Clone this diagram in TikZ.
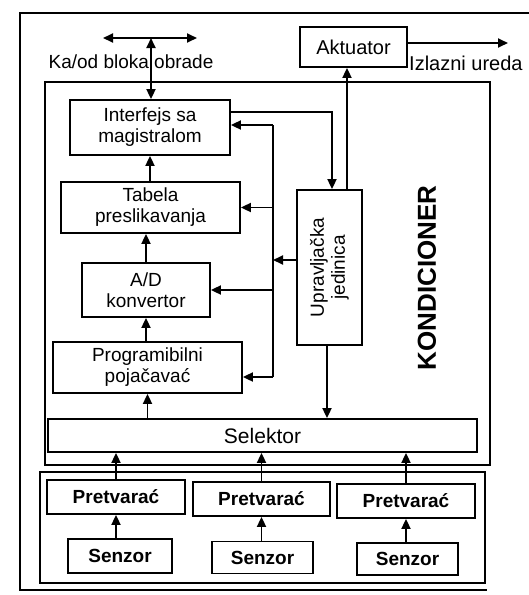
\documentclass[tikz,border=0pt]{standalone}
\usepackage{fontspec}
\setmainfont{Liberation Sans}
\usetikzlibrary{arrows.meta}
\tikzset{
  ln/.style={line width=1.8pt},
  box/.style={draw, line width=1.8pt, inner sep=0pt, align=center, font=\fontsize{19}{21}\selectfont},
  bbox/.style={box, font=\fontsize{19}{21}\selectfont\bfseries},
  txt/.style={inner sep=0pt, align=center, font=\fontsize{19}{21}\selectfont},
  arr/.style={line width=1.8pt, -{Triangle[length=10pt,width=9pt]}},
  darr/.style={line width=1.8pt, {Triangle[length=10pt,width=9pt]}-{Triangle[length=10pt,width=9pt]}},
}
\begin{document}
\begin{tikzpicture}[x=1pt,y=-1pt]
\useasboundingbox (0,0) rectangle (529,595);
% frames
\draw[ln] (529,13) -- (20,13) -- (20,590) -- (487,590);
\draw[ln] (45,82) rectangle (490,465);
\draw[ln] (40,472) rectangle (485,583);
% blocks
\node[box, minimum width=107pt, minimum height=40pt, font=\fontsize{20}{22}\selectfont] (akt) at (353.5,47) {Aktuator};
\node[box, minimum width=160pt, minimum height=55pt] (iface) at (150,127.5) {Interfejs sa\\magistralom};
\node[box, minimum width=179pt, minimum height=51pt] (tab) at (150.5,207.5) {Tabela\\preslikavanja};
\node[box, minimum width=128pt, minimum height=54pt] (ad) at (146,290) {A/D\\konvertor};
\node[box, minimum width=189pt, minimum height=51pt] (prog) at (147.5,367.5) {Programibilni\\poja\v{c}ava\'c};
\node[box, minimum width=65pt, minimum height=155pt] (upr) at (329.5,267.5) {};
\node[txt, rotate=90] (uprtxt) at (upr.center) {Upravlja\v{c}ka\\jedinica};
\node[box, minimum width=429pt, minimum height=33pt, font=\fontsize{21}{23}\selectfont] (sel) at (262.5,435.5) {Selektor};
\node[inner sep=0pt, rotate=90, font=\fontsize{26}{28}\selectfont\bfseries] (kond) at (427,278) {KONDICIONER};
% converters and sensors
\node[bbox, minimum width=138pt, minimum height=34pt] (p1) at (116,497) {Pretvara\'c};
\node[bbox, minimum width=137pt, minimum height=34pt] (p2) at (261.5,499) {Pretvara\'c};
\node[bbox, minimum width=138pt, minimum height=34pt] (p3) at (406,501) {Pretvara\'c};
\node[bbox, minimum width=104pt, minimum height=34pt] (s1) at (120,556) {Senzor};
\node[bbox, minimum width=101pt, minimum height=32pt] (s2) at (262.5,557.5) {Senzor};
\node[bbox, minimum width=101pt, minimum height=32pt] (s3) at (407.5,559) {Senzor};
% labels
\node[txt] (lbl) at (131,62) {Ka/od bloka obrade};
\node[txt, anchor=west, font=\fontsize{20}{22}\selectfont] (izl) at (409,63) {Izlazni ureda};
% bus to processing block
\coordinate (busL) at (103,38);
\coordinate (busR) at (197,38);
\coordinate (busC) at (151,38);
\draw[darr] (busL) -- (busR);
\draw[darr] (busC) -- (busC |- iface.north);
% actuator output
\coordinate (out) at (508,43);
\draw[arr] (akt.east |- out) -- (out);
% vertical chain
\draw[arr] (sel.north -| prog.south) -- (prog.south);
\draw[arr] (ad.south |- prog.north) -- (ad.south);
\draw[arr] (ad.north) -- (ad.north |- tab.south);
\draw[arr] (iface.south |- tab.north) -- (iface.south);
% control unit links
\coordinate (c1) at (332,112);
\draw[arr] (c1 -| iface.east) -- (c1) -- (c1 |- upr.north);
\coordinate (c2) at (347,100);
\draw[arr] (c2 |- upr.north) -- (c2 |- akt.south);
\coordinate (c3) at (327,400);
\draw[arr] (c3 |- upr.south) -- (c3 |- sel.north);
% control bus
\coordinate (bt) at (273,125);
\coordinate (bb) at (273,377);
\draw[ln] (bt) -- (bb);
\draw[arr] (bt) -- (bt -| iface.east);
\draw[arr] (bt |- tab.east) -- (tab.east);
\draw[arr] (bt |- ad.east) -- (ad.east);
\draw[arr] (bb) -- (bb -| prog.east);
\draw[arr] ([yshift=7.5pt]upr.west) -- ([yshift=7.5pt]upr.west -| bt);
% sensors -> converters -> selector
\foreach \i in {1,2,3}{
  \draw[arr] (p\i.south |- s\i.north) -- (p\i.south);
  \draw[arr] (p\i.north) -- (p\i.north |- sel.south);
}
\end{tikzpicture}
\end{document}
